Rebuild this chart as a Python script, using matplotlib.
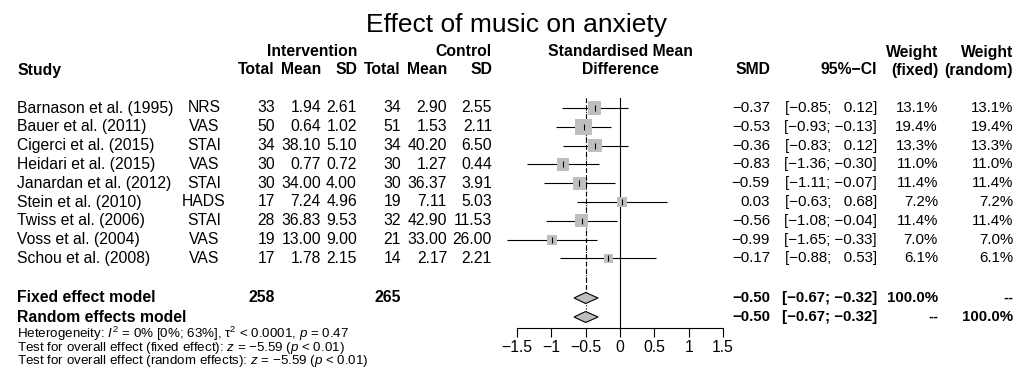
import numpy as np
import matplotlib
matplotlib.use("Agg")
import matplotlib.pyplot as plt

plt.rcParams['font.family'] = ['Liberation Sans', 'DejaVu Sans']
plt.rcParams['mathtext.fontset'] = 'custom'
plt.rcParams['mathtext.rm'] = 'Liberation Sans'
plt.rcParams['mathtext.it'] = 'Liberation Sans:italic'
plt.rcParams['mathtext.bf'] = 'Liberation Sans:bold'

# data
studies = ["Barnason et al. (1995)", "Bauer et al. (2011)", "Cigerci et al. (2015)",
           "Heidari et al. (2015)", "Janardan et al. (2012)", "Stein et al. (2010)",
           "Twiss et al. (2006)", "Voss et al. (2004)", "Schou et al. (2008)"]
methods = ["NRS", "VAS", "STAI", "VAS", "STAI", "HADS", "STAI", "VAS", "VAS"]
n_e = [33, 50, 34, 30, 30, 17, 28, 19, 17]
mean_e = [1.94, 0.64, 38.10, 0.77, 34.00, 7.24, 36.83, 13.00, 1.78]
sd_e = [2.61, 1.02, 5.10, 0.72, 4.00, 4.96, 9.53, 9.00, 2.15]
n_c = [34, 51, 34, 30, 30, 19, 32, 21, 14]
mean_c = [2.90, 1.53, 40.20, 1.27, 36.37, 7.11, 42.90, 33.00, 2.17]
sd_c = [2.55, 2.11, 6.50, 0.44, 3.91, 5.03, 11.53, 26.00, 2.21]
smd = [-0.37, -0.53, -0.36, -0.83, -0.59, 0.03, -0.56, -0.99, -0.17]
ci_lo = [-0.85, -0.93, -0.83, -1.36, -1.11, -0.63, -1.08, -1.65, -0.88]
ci_hi = [0.12, -0.13, 0.12, -0.30, -0.07, 0.68, -0.04, -0.33, 0.53]
w_fixed = [13.1, 19.4, 13.3, 11.0, 11.4, 7.2, 11.4, 7.0, 6.1]
w_random = [13.1, 19.4, 13.3, 11.0, 11.4, 7.2, 11.4, 7.0, 6.1]
pooled_fixed = (-0.50, -0.67, -0.32)
pooled_random = (-0.50, -0.67, -0.32)
xticks = [-1.5, -1, -0.5, 0, 0.5, 1, 1.5]
xticklabels = ["\u22121.5", "\u22121", "\u22120.5", "0", "0.5", "1", "1.5"]

FS = 11.3        # left columns / headers
FS_R = 10.8      # right hand numeric columns
FS_SMALL = 9.6
W, H = 1032, 385

def num(v, d=2):
    return f"{v:.{d}f}".replace("-", "\u2212")

def ci(lo, hi):
    b = num(hi)
    if hi >= 0:
        b = "  " + b
    return f"[{num(lo)}; {b}]"

fig = plt.figure(figsize=(W / 100, H / 100), dpi=100)
ax0 = fig.add_axes([0, 0, 1, 1])
ax0.set_xlim(0, W)
ax0.set_ylim(H, 0)
ax0.axis('off')

def t(x, y, s, ha='left', bold=False, size=FS):
    ax0.text(x, y, s, ha=ha, va='center', fontsize=size,
             fontweight='bold' if bold else 'normal')

# column right edges (px)
X_NE, X_ME, X_SE = 275, 321, 357
X_NC, X_MC, X_SC = 401, 447, 492
X_SMD, X_CI, X_WF, X_WR = 770, 877, 938, 1013

# title and headers
t(516, 25, "Effect of music on anxiety", ha='center', size=19)
t(17, 70, "Study", bold=True)
t(X_SE, 52, "Intervention", ha='right', bold=True)
t(X_SC, 52, "Control", ha='right', bold=True)
for xr, lab in [(X_NE, "Total"), (X_ME, "Mean"), (X_SE, "SD"),
                (X_NC, "Total"), (X_MC, "Mean"), (X_SC, "SD")]:
    t(xr, 70, lab, ha='right', bold=True)
t(620, 52, "Standardised Mean", ha='center', bold=True)
t(620, 70, "Difference", ha='center', bold=True)
t(X_SMD, 70, "SMD", ha='right', bold=True)
t(X_CI, 70, "95%\u2212CI", ha='right', bold=True)
t(X_WF, 52, "Weight", ha='right', bold=True)
t(X_WF, 70, "(fixed)", ha='right', bold=True)
t(X_WR, 52, "Weight", ha='right', bold=True)
t(X_WR, 70, "(random)", ha='right', bold=True)

row0, rowh = 108, 18.8
ys = [row0 + i * rowh for i in range(len(studies))]
y_fix, y_ran = 298, 317

for i, y in enumerate(ys):
    t(17, y, studies[i])
    t(204, y, methods[i], ha='center')
    t(X_NE, y, str(n_e[i]), ha='right')
    t(X_ME, y, f"{mean_e[i]:.2f}", ha='right')
    t(X_SE, y, f"{sd_e[i]:.2f}", ha='right')
    t(X_NC, y, str(n_c[i]), ha='right')
    t(X_MC, y, f"{mean_c[i]:.2f}", ha='right')
    t(X_SC, y, f"{sd_c[i]:.2f}", ha='right')
    t(X_SMD, y, num(smd[i]), ha='right', size=FS_R)
    t(X_CI, y, ci(ci_lo[i], ci_hi[i]), ha='right', size=FS_R)
    t(X_WF, y, f"{w_fixed[i]:.1f}%", ha='right', size=FS_R)
    t(X_WR, y, f"{w_random[i]:.1f}%", ha='right', size=FS_R)

t(17, y_fix, "Fixed effect model", bold=True)
t(X_NE, y_fix, str(sum(n_e)), ha='right', bold=True)
t(X_NC, y_fix, str(sum(n_c)), ha='right', bold=True)
t(X_SMD, y_fix, num(pooled_fixed[0]), ha='right', bold=True, size=FS_R)
t(X_CI, y_fix, ci(pooled_fixed[1], pooled_fixed[2]), ha='right', bold=True, size=FS_R)
t(X_WF, y_fix, "100.0%", ha='right', bold=True, size=FS_R)
t(X_WR, y_fix, "--", ha='right', bold=True, size=FS_R)
t(17, y_ran, "Random effects model", bold=True)
t(X_SMD, y_ran, num(pooled_random[0]), ha='right', bold=True, size=FS_R)
t(X_CI, y_ran, ci(pooled_random[1], pooled_random[2]), ha='right', bold=True, size=FS_R)
t(X_WF, y_ran, "--", ha='right', bold=True, size=FS_R)
t(X_WR, y_ran, "100.0%", ha='right', bold=True, size=FS_R)

t(17, 334, "Heterogeneity: $I^2$ = 0% [0%; 63%], \u03c4$^2$ < 0.0001, $p$ = 0.47", size=FS_SMALL)
t(17, 347.5, "Test for overall effect (fixed effect): $z$ = \u22125.59 ($p$ < 0.01)", size=FS_SMALL)
t(17, 361, "Test for overall effect (random effects): $z$ = \u22125.59 ($p$ < 0.01)", size=FS_SMALL)

# forest panel
top, bottom = 98, 328
x0, x1 = 517, 723
ax = fig.add_axes([x0 / W, (H - bottom) / H, (x1 - x0) / W, (bottom - top) / H])
ax.set_xlim(-1.5, 1.5)
ax.set_ylim(bottom, top)
ax.patch.set_visible(False)
for s in ['left', 'right', 'top']:
    ax.spines[s].set_visible(False)
ax.spines['bottom'].set_linewidth(0.8)
ax.set_yticks([])
ax.set_xticks(xticks)
ax.set_xticklabels(xticklabels, fontsize=FS)
ax.tick_params(axis='x', direction='out', length=6.5, width=0.8, pad=2.5)

ax.axvline(0, color='black', lw=0.8, zorder=1)
ax.plot([pooled_fixed[0]] * 2, [top, y_fix - 5.5], color='black', lw=0.8,
        ls=(0, (4, 3)), zorder=1)
ax.plot([pooled_random[0]] * 2, [top, y_ran - 5.5], color='black', lw=0.8,
        ls=(0, (1, 2)), zorder=1)

ax.hlines(ys, ci_lo, ci_hi, color='black', lw=0.8, zorder=2, clip_on=False)
side = 16.5 * np.sqrt(np.array(w_fixed) / max(w_fixed)) * 0.72
ax.scatter(smd, ys, s=side ** 2, marker='s', color='#BEBEBE', linewidths=0, zorder=3)
ax.scatter(smd, ys, s=16, marker='|', color='black', linewidths=0.8, zorder=4)

for est, lo, hi, y in [(*pooled_fixed, y_fix), (*pooled_random, y_ran)]:
    ax.fill([lo, est, hi, est], [y, y - 5.5, y, y + 5.5], facecolor='#BEBEBE',
            edgecolor='black', lw=0.8, zorder=3, clip_on=False)

fig.savefig("out.png", dpi=100)
